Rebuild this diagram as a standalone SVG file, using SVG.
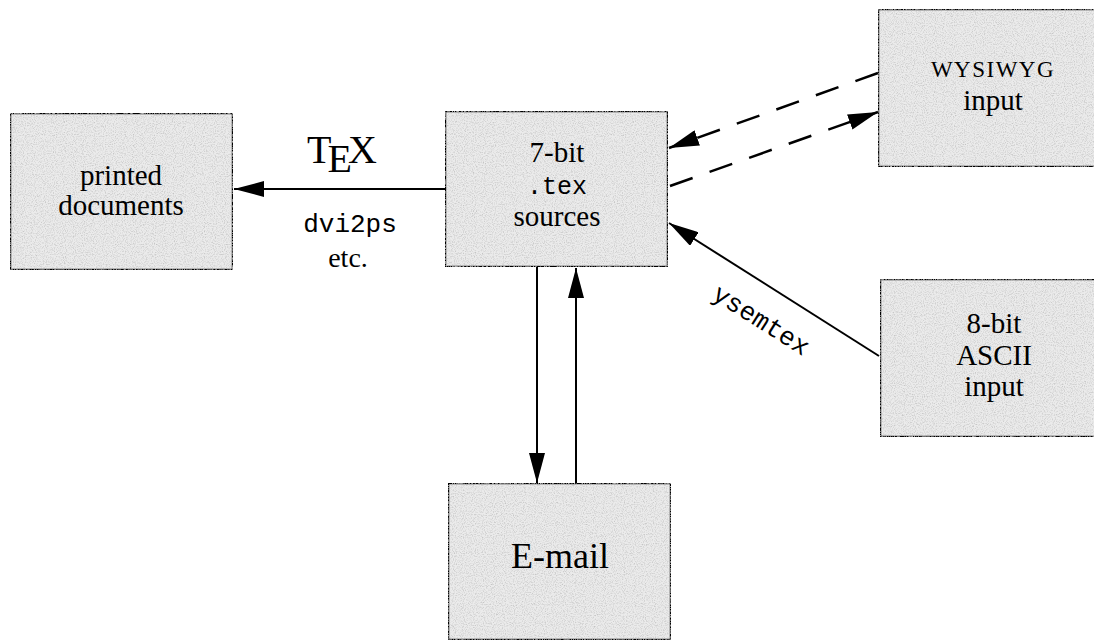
<svg xmlns="http://www.w3.org/2000/svg" width="1094" height="642" viewBox="0 0 1094 642">
<style>
.box{fill:#ebebeb;stroke:#000;stroke-width:2.5}
.t{font-family:"Liberation Serif","Times New Roman",serif;fill:#000;text-anchor:middle;font-size:29px}
.m{font-family:"Liberation Mono","Courier New",monospace;fill:#000;text-anchor:middle;font-size:26px}
.ln{stroke:#000;stroke-width:2;fill:none}
.dash{stroke:#000;stroke-width:2.5;fill:none;stroke-dasharray:24 18}
</style>
<defs>
<filter id="grain" x="0" y="0" width="1" height="1">
<feTurbulence type="fractalNoise" baseFrequency="0.9" numOctaves="2" seed="3" result="n"/>
<feColorMatrix in="n" type="matrix" values="0 0 0 0 0.55  0 0 0 0 0.55  0 0 0 0 0.55  0 0 0 -2.2 1.25" result="g"/>
<feComposite in="g" in2="SourceGraphic" operator="in" result="gc"/>
<feMerge><feMergeNode in="SourceGraphic"/><feMergeNode in="gc"/></feMerge>
</filter>
<marker id="ah" viewBox="0 0 30 16" refX="30" refY="8" markerWidth="30" markerHeight="16" markerUnits="userSpaceOnUse" orient="auto">
<path d="M0,0 L30,8 L0,16 Z" fill="#000"/>
</marker>
</defs>

<g id="connectors">
<line class="ln" x1="445" y1="189" x2="234" y2="189" marker-end="url(#ah)"/>
<line class="ln" x1="537" y1="267" x2="537" y2="483" marker-end="url(#ah)"/>
<line class="ln" x1="576" y1="483" x2="576" y2="268" marker-end="url(#ah)"/>
<line class="ln" x1="879" y1="356" x2="669" y2="223" marker-end="url(#ah)"/>
<line class="dash" x1="878" y1="73" x2="669" y2="148" marker-end="url(#ah)"/>
<line class="dash" x1="670" y1="186" x2="878" y2="112" marker-end="url(#ah)"/>
<text font-family="Liberation Serif, Times New Roman, serif" font-size="40" x="307" y="163">T<tspan dx="-4" dy="9">E</tspan><tspan dx="-4" dy="-9">X</tspan></text>
<text class="m" x="350" y="232">dvi2ps</text>
<text class="t" x="348" y="267" style="font-size:28px">etc.</text>
<text class="m" transform="translate(760,322) rotate(32.3)" x="0" y="6">ysemtex</text>
</g>

<g id="printed">
<rect class="box" x="10" y="113" width="223" height="157" filter="url(#grain)"/>
<text class="t" x="121" y="185">printed</text>
<text class="t" x="121" y="215">documents</text>
</g>

<g id="sources">
<rect class="box" x="445" y="111" width="223" height="156" filter="url(#grain)"/>
<text class="t" x="557" y="162">7-bit</text>
<text class="m" x="557" y="194" style="font-size:25px">.tex</text>
<text class="t" x="557" y="226">sources</text>
</g>

<g id="wysiwyg">
<rect class="box" x="878" y="9" width="230" height="158" filter="url(#grain)"/>
<text class="t" x="993" y="77" style="font-size:23px;letter-spacing:1.5px">WYSIWYG</text>
<text class="t" x="993" y="110">input</text>
</g>

<g id="ascii">
<rect class="box" x="880" y="279" width="230" height="158" filter="url(#grain)"/>
<text class="t" x="994" y="333">8-bit</text>
<text class="t" x="994" y="365">ASCII</text>
<text class="t" x="994" y="396">input</text>
</g>

<g id="email">
<rect class="box" x="448" y="483" width="223" height="157" filter="url(#grain)"/>
<text class="t" x="560" y="568" style="font-size:36px">E-mail</text>
</g>
</svg>
